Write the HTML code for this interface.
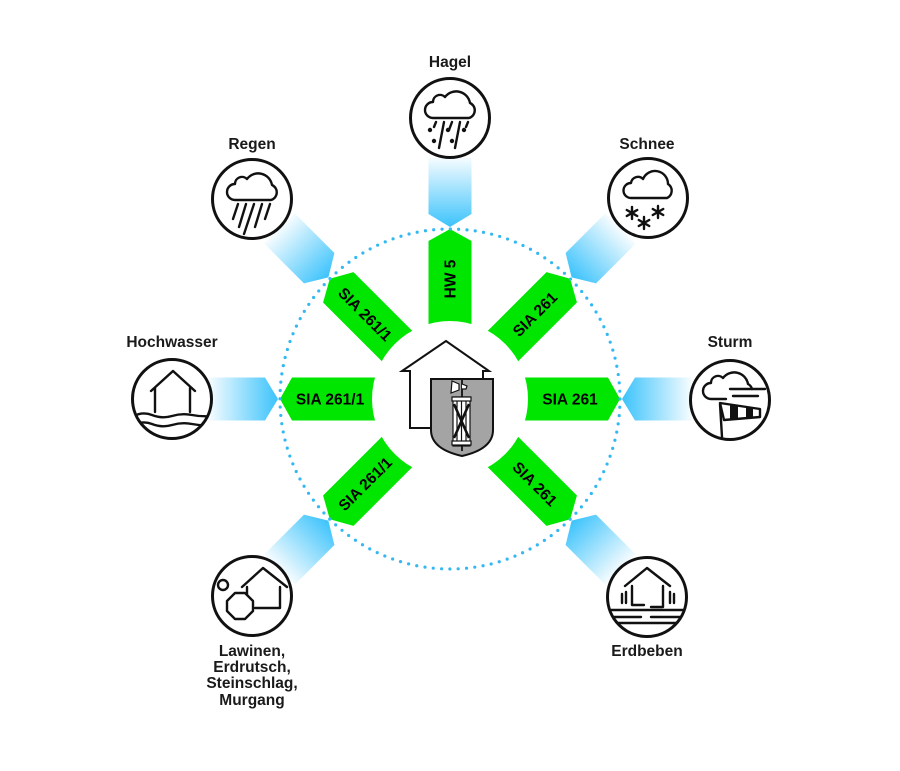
<!DOCTYPE html>
<html>
<head>
<meta charset="utf-8">
<style>
  html, body { margin: 0; padding: 0; background: #ffffff; }
  svg { display: block; }
  .lbl { font-family: "Liberation Sans", Arial, sans-serif; font-weight: bold; font-size: 15.5px; fill: #1a1a1a; text-anchor: middle; }
  .gt { font-family: "Liberation Sans", Arial, sans-serif; font-weight: bold; font-size: 15.5px; fill: #000; text-anchor: middle; }
  .ic { fill: none; stroke: #111; stroke-width: 2.4; stroke-linecap: round; stroke-linejoin: round; }
</style>
</head>
<body>
<svg width="900" height="771" viewBox="0 0 900 771" xmlns="http://www.w3.org/2000/svg">
  <defs>
    <linearGradient id="bg" gradientUnits="userSpaceOnUse" x1="172" y1="0" x2="240" y2="0">
      <stop offset="0" stop-color="#3cc3fb"/>
      <stop offset="1" stop-color="#f3fbff"/>
    </linearGradient>
    <clipPath id="cc"><circle cx="0" cy="0" r="38.5"/></clipPath>
  </defs>
  <rect width="900" height="771" fill="#ffffff"/>

  <!-- spokes -->
  <g transform="translate(450,399)">
    <g transform="rotate(0)">
      <polygon points="60,-21.5 158,-21.5 170,0 158,21.5 60,21.5" fill="#00e600"/>
      <polygon points="172,0 185,-21.5 241,-21.5 241,21.5 185,21.5" fill="url(#bg)"/>
    </g>
    <g transform="rotate(45)">
      <polygon points="60,-21.5 158,-21.5 170,0 158,21.5 60,21.5" fill="#00e600"/>
      <polygon points="172,0 185,-21.5 241,-21.5 241,21.5 185,21.5" fill="url(#bg)"/>
    </g>
    <g transform="rotate(135)">
      <polygon points="60,-21.5 158,-21.5 170,0 158,21.5 60,21.5" fill="#00e600"/>
      <polygon points="172,0 185,-21.5 241,-21.5 241,21.5 185,21.5" fill="url(#bg)"/>
    </g>
    <g transform="rotate(180)">
      <polygon points="60,-21.5 158,-21.5 170,0 158,21.5 60,21.5" fill="#00e600"/>
      <polygon points="172,0 185,-21.5 241,-21.5 241,21.5 185,21.5" fill="url(#bg)"/>
    </g>
    <g transform="rotate(225)">
      <polygon points="60,-21.5 158,-21.5 170,0 158,21.5 60,21.5" fill="#00e600"/>
      <polygon points="172,0 185,-21.5 241,-21.5 241,21.5 185,21.5" fill="url(#bg)"/>
    </g>
    <g transform="rotate(270)">
      <polygon points="60,-21.5 158,-21.5 170,0 158,21.5 60,21.5" fill="#00e600"/>
      <polygon points="172,0 185,-21.5 241,-21.5 241,21.5 185,21.5" fill="url(#bg)"/>
    </g>
    <g transform="rotate(315)">
      <polygon points="60,-21.5 158,-21.5 170,0 158,21.5 60,21.5" fill="#00e600"/>
      <polygon points="172,0 185,-21.5 241,-21.5 241,21.5 185,21.5" fill="url(#bg)"/>
    </g>
    <circle cx="0" cy="0" r="78" fill="#ffffff"/>
    <circle cx="0" cy="0" r="170" fill="none" stroke="#33b8f2" stroke-width="3.2" stroke-linecap="round" stroke-dasharray="0 8.345"/>
  </g>

  <!-- green labels -->
  <text class="gt" transform="translate(570,399)" y="5.4">SIA 261</text>
  <text class="gt" transform="translate(330,399)" y="5.4">SIA 261/1</text>
  <text class="gt" transform="translate(450,279) rotate(-90)" y="5.4">HW 5</text>
  <text class="gt" transform="translate(534.9,314.2) rotate(-45)" y="5.4">SIA 261</text>
  <text class="gt" transform="translate(365.1,314.2) rotate(45)" y="5.4">SIA 261/1</text>
  <text class="gt" transform="translate(365.1,483.9) rotate(-45)" y="5.4">SIA 261/1</text>
  <text class="gt" transform="translate(534.9,483.9) rotate(45)" y="5.4">SIA 261</text>

  <!-- center house + shield -->
  <polyline points="431,428 410,428 410,371 402,371 446,341 489,371 483,371 483,380" fill="#ffffff" stroke="#111" stroke-width="2"/>
  <path d="M431,379 H493 V430 Q493,449 462,456 Q431,449 431,430 Z" fill="#a4a4a4" stroke="#111" stroke-width="2"/>
  <g stroke="#111" stroke-width="1.2">
    <line x1="462" y1="380" x2="462" y2="397" stroke-width="1.8"/>
    <path d="M459,384 L452,381 L451,393 L459,390 Z" fill="#fff"/>
    <path d="M462,384 L467,386 L466,389 L462,389" fill="#fff"/>
    <rect x="453" y="397" width="17" height="49" fill="#fff"/>
    <line x1="457" y1="401" x2="457" y2="442"/>
    <line x1="461.5" y1="401" x2="461.5" y2="442"/>
    <line x1="466" y1="401" x2="466" y2="442"/>
    <rect x="452" y="397" width="19" height="4" fill="#fff"/>
    <rect x="452" y="441" width="19" height="4" fill="#fff"/>
    <line x1="454" y1="404" x2="469" y2="438" stroke-width="2.6"/>
    <line x1="469" y1="404" x2="454" y2="438" stroke-width="2.6"/>
    <line x1="462" y1="446" x2="462" y2="451" stroke-width="1.8"/>
  </g>

  <!-- Hagel -->
  <text class="lbl" x="450" y="67">Hagel</text>
  <g transform="translate(450,118)">
    <circle r="39.5" fill="#fff" stroke="#111" stroke-width="3"/>
    <path class="ic" d="M -17 0 H 19 A 8 8 0 0 0 20 -15 A 14 14 0 0 0 -5 -21 A 7 7 0 0 0 -17 -16 A 8 8 0 0 0 -17 0 Z"/>
    <path class="ic" d="M -14 4 L -16 9 M -6 4 L -11 30 M 2 4 L -1 12 M 10 4 L 5 30 M 18 4 L 16 9"/>
    <g fill="#111">
      <circle cx="-20" cy="12" r="2.2"/>
      <circle cx="-2" cy="12" r="2.2"/>
      <circle cx="14" cy="12" r="2.2"/>
      <circle cx="-16" cy="23" r="2.2"/>
      <circle cx="2" cy="23" r="2.2"/>
    </g>
  </g>

  <!-- Regen -->
  <text class="lbl" x="252" y="149">Regen</text>
  <g transform="translate(252,199)">
    <circle r="39.5" fill="#fff" stroke="#111" stroke-width="3"/>
    <path class="ic" d="M -17 1 H 19 A 8 8 0 0 0 20 -14 A 14 14 0 0 0 -5 -20 A 7 7 0 0 0 -17 -15 A 8 8 0 0 0 -17 1 Z"/>
    <path class="ic" d="M -14 5 L -19 20 M -6 5 L -13 28 M 2 5 L -8 35 M 10 5 L 3 28 M 18 5 L 13 20"/>
  </g>

  <!-- Schnee -->
  <text class="lbl" x="647" y="149">Schnee</text>
  <g transform="translate(648,198)">
    <circle r="39.5" fill="#fff" stroke="#111" stroke-width="3"/>
    <path class="ic" d="M -17 0 H 19 A 8 8 0 0 0 20 -14 A 13 13 0 0 0 -5 -19 A 7 7 0 0 0 -17 -15 A 7.5 7.5 0 0 0 -17 0 Z"/>
    <path class="ic" d="M -16 9 V 21 M -21.2 12 L -10.8 18 M -21.2 18 L -10.8 12
                        M 10 8 V 20 M 4.8 11 L 15.2 17 M 4.8 17 L 15.2 11
                        M -4 19 V 31 M -9.2 22 L 1.2 28 M -9.2 28 L 1.2 22"/>
  </g>

  <!-- Hochwasser -->
  <text class="lbl" x="172" y="347">Hochwasser</text>
  <g transform="translate(172,399)">
    <circle r="39.5" fill="#fff" stroke="#111" stroke-width="3"/>
    <path class="ic" d="M -21 -8 L 1 -28 L 23 -8 M -17 -11 V 13 M 18 -11 V 13"/>
    <g clip-path="url(#cc)">
      <path class="ic" d="M -40 18 Q -30 12 -20 16 T 0 17 T 20 16 T 42 17"/>
      <path class="ic" d="M -40 27 Q -30 21 -20 25 T 0 26 T 20 25 T 42 26"/>
    </g>
  </g>

  <!-- Sturm -->
  <text class="lbl" x="730" y="347">Sturm</text>
  <g transform="translate(730,400)">
    <circle r="39.5" fill="#fff" stroke="#111" stroke-width="3"/>
    <path class="ic" d="M -4 -1 H -19 A 8 8 0 0 1 -19 -17 A 7 7 0 0 1 -7 -22 A 14 14 0 0 1 18 -16 A 8 8 0 0 1 22 -11"/>
    <path class="ic" d="M 0 -11 H 35 M 3 -4 H 28"/>
    <path class="ic" d="M -10 4 L -8 37"/>
    <path class="ic" d="M -10 3 L 30 9 L 30 17 L -6 20 Z"/>
    <path d="M 0 4.5 L 8 5.7 L 8 18.8 L 0 19.5 Z M 16 6.9 L 23 7.95 L 23 17.6 L 16 18.2 Z" fill="#111"/>
  </g>

  <!-- Lawinen -->
  <g transform="translate(252,596)">
    <circle r="39.5" fill="#fff" stroke="#111" stroke-width="3"/>
    <path class="ic" d="M -10 -9 L 11 -28 L 35 -9 M 28 -9 V 12 H 3 M -5 -9 V -1"/>
    <circle class="ic" cx="-29" cy="-11" r="5"/>
    <polygon class="ic" fill="#fff" points="-17,-3 -7,-3 1,5 1,15 -7,23 -17,23 -25,15 -25,5"/>
  </g>
  <text class="lbl" x="252" y="656">Lawinen,</text>
  <text class="lbl" x="252" y="672">Erdrutsch,</text>
  <text class="lbl" x="252" y="688">Steinschlag,</text>
  <text class="lbl" x="252" y="705">Murgang</text>

  <!-- Erdbeben -->
  <g transform="translate(647,597)">
    <circle r="39.5" fill="#fff" stroke="#111" stroke-width="3"/>
    <path class="ic" d="M -22 -11 L 0 -29 L 23 -11 M -15 -11 V 8 H -3 M 16 -11 V 10 H 4"/>
    <path class="ic" d="M -25 -3 V 6 M -21 -5 V 6 M 23 -5 V 6 M 27 -3 V 6"/>
    <g clip-path="url(#cc)">
      <path class="ic" d="M -40 13 H 40 M -40 20 H -6 M 4 20 H 40 M -40 26 H 40"/>
    </g>
  </g>
  <text class="lbl" x="647" y="656">Erdbeben</text>
</svg>
</body>
</html>
